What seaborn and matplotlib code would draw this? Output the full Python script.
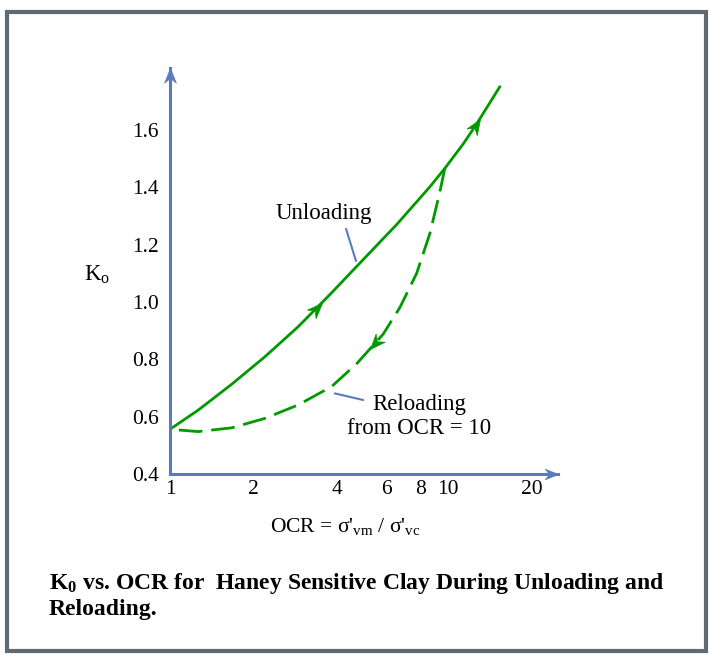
import numpy as np
import pandas as pd
import matplotlib
matplotlib.use("Agg")
import matplotlib.pyplot as plt
from matplotlib.path import Path
from matplotlib.markers import MarkerStyle
from matplotlib.patches import Rectangle
from matplotlib.ticker import FixedLocator, FixedFormatter, NullLocator
import seaborn as sns

# Unloading branch (solid curve)
unload_ocr = [1.0, 1.264, 1.667, 2.196, 2.894, 3.763, 4.96, 6.54, 8.62, 9.75, 11.35, 12.69, 15.38]
unload_k = [0.556, 0.623, 0.713, 0.809, 0.914, 1.026, 1.148, 1.270, 1.402, 1.466, 1.551, 1.621, 1.751]

# Reloading branch starting from OCR = 10 (dashed curve)
reload_ocr = [9.75, 9.36, 8.62, 7.72, 6.72, 5.85, 4.69, 3.816, 2.894, 2.196, 1.667, 1.264, 1.0]
reload_k = [1.466, 1.385, 1.240, 1.100, 0.981, 0.888, 0.784, 0.705, 0.641, 0.594, 0.561, 0.548, 0.556]

# Axis ticks
x_ticks = [1, 2, 4, 6, 8, 10, 20]
x_tick_labels = ["1", "2", "4", "6", "8", "10", "20"]
y_ticks = [0.4, 0.6, 0.8, 1.0, 1.2, 1.4, 1.6]
y_tick_labels = ["0.4", "0.6", "0.8", "1.0", "1.2", "1.4", "1.6"]

# Direction arrows drawn on the curves: OCR at the arrow tip
unload_arrow_ocr = [3.51, 13.0]
reload_arrow_ocr = [5.24]

caption_line1 = r"K$_\mathbf{0}$ vs. OCR for  Haney Sensitive Clay During Unloading and"
caption_line2 = "Reloading."

GREEN = "#009900"
AXIS_BLUE = "#5b79c0"
FRAME = "#5f6a72"

sns.set_style("white")
plt.rcParams["font.family"] = ["Liberation Serif", "DejaVu Serif"]
plt.rcParams["mathtext.fontset"] = "custom"
plt.rcParams["mathtext.rm"] = "Liberation Serif"
plt.rcParams["mathtext.it"] = "Liberation Serif:italic"
plt.rcParams["mathtext.bf"] = "Liberation Serif:bold"
plt.rcParams["text.color"] = "black"
plt.rcParams["axes.labelcolor"] = "black"

W, H = 710, 655
fig = plt.figure(figsize=(W / 100, H / 100), dpi=100)
fig.patch.set_facecolor("white")

# Axes placed in pixel terms: x from 170 to 558, y from 474 (bottom) to 68 (top)
ax = fig.add_axes([170 / W, 1 - 474 / H, (558 - 170) / W, (474 - 68) / H])
ax.set_facecolor("none")
ax.set_xscale("log")
ax.set_xlim(1, 24.9)
ax.set_ylim(0.4, 1.816)

unload = pd.DataFrame({"OCR": unload_ocr, "K0": unload_k})
reload_ = pd.DataFrame({"OCR": reload_ocr, "K0": reload_k})

sns.lineplot(data=unload, x="OCR", y="K0", ax=ax, color=GREEN, lw=2.0,
             estimator=None, sort=False)
sns.lineplot(data=reload_, x="OCR", y="K0", ax=ax, color=GREEN, lw=2.0,
             estimator=None, sort=False, ls=(0, (8.5, 3.2)))


def stealth(angle_deg):
    verts = [(0, 0), (-2, 0.8), (-1.35, 0), (-2, -0.8), (0, 0)]
    codes = [Path.MOVETO, Path.LINETO, Path.LINETO, Path.LINETO, Path.CLOSEPOLY]
    return MarkerStyle(Path(verts, codes)).rotated(deg=angle_deg)


def display_angle(p0, p1):
    a = ax.transData.transform(p0)
    b = ax.transData.transform(p1)
    return np.degrees(np.arctan2(b[1] - a[1], b[0] - a[0]))


def curve_arrow(ocr_arr, k_arr, tip, step):
    lx = np.log10(ocr_arr)
    order = np.argsort(lx)
    lx_s = np.asarray(lx)[order]
    k_s = np.asarray(k_arr)[order]
    k_tip = np.interp(np.log10(tip), lx_s, k_s)
    back = tip / step
    k_back = np.interp(np.log10(back), lx_s, k_s)
    ang = display_angle((back, k_back), (tip, k_tip))
    ax.plot([tip], [k_tip], marker=stealth(ang), ms=22, color=GREEN,
            mec=GREEN, mew=0.5, ls="none", zorder=5)


for t in unload_arrow_ocr:
    curve_arrow(unload_ocr, unload_k, t, 1.06)
for t in reload_arrow_ocr:
    curve_arrow(reload_ocr, reload_k, t, 1 / 1.06)

# Axis lines with arrowheads
for side in ["top", "right"]:
    ax.spines[side].set_visible(False)
for side in ["left", "bottom"]:
    ax.spines[side].set_color(AXIS_BLUE)
    ax.spines[side].set_linewidth(2.2)
ax.plot([1], [1.816], marker=stealth(90), ms=21, color=AXIS_BLUE, mew=0.5,
        clip_on=False, ls="none", zorder=6)
ax.plot([24.9], [0.4], marker=stealth(0), ms=19, color=AXIS_BLUE, mew=0.5,
        clip_on=False, ls="none", zorder=6)

ax.xaxis.set_major_locator(FixedLocator(x_ticks))
ax.xaxis.set_major_formatter(FixedFormatter(x_tick_labels))
ax.xaxis.set_minor_locator(NullLocator())
ax.yaxis.set_major_locator(FixedLocator(y_ticks))
ax.yaxis.set_major_formatter(FixedFormatter(y_tick_labels))
ax.tick_params(axis="both", direction="in", length=9.4, width=1.6,
               color=AXIS_BLUE, labelsize=15.5, labelcolor="black")
ax.tick_params(axis="y", pad=8)
ax.tick_params(axis="x", pad=4)

ax.set_ylabel(r"K$_\mathregular{o}$", rotation=0, fontsize=16.5, ha="center", va="center")
ax.yaxis.set_label_coords(-0.188, 0.49)
ax.set_xlabel(r"OCR = σ'$_\mathregular{vm}$ / σ'$_\mathregular{vc}$", fontsize=15.5,
              ha="center", va="center")
ax.xaxis.set_label_coords(0.451, -0.13)

# Curve labels with leader lines
ax.text(3.58, 1.31, "Unloading", fontsize=16.5, ha="center", va="center")
ax.plot([4.30, 4.67], [1.255, 1.143], color=AXIS_BLUE, lw=1.5)
ax.text(7.87, 0.60, "Reloading\nfrom OCR = 10", fontsize=16.5, ha="center",
        va="center", multialignment="center", linespacing=1.15)
ax.plot([3.92, 4.96], [0.681, 0.658], color=AXIS_BLUE, lw=1.5)

# Caption
fig.text(49 / W, 1 - 583 / H, caption_line1, fontsize=17, fontweight="bold",
         ha="left", va="center")
fig.text(49 / W, 1 - 609 / H, caption_line2, fontsize=17, fontweight="bold",
         ha="left", va="center")

# Frame around the figure
fig.patches.append(Rectangle((7 / W, 1 - 651 / H), (706 - 7) / W, (651 - 12) / H,
                             transform=fig.transFigure, fill=False,
                             edgecolor=FRAME, lw=3, zorder=0))

fig.savefig("out.png", dpi=100)
